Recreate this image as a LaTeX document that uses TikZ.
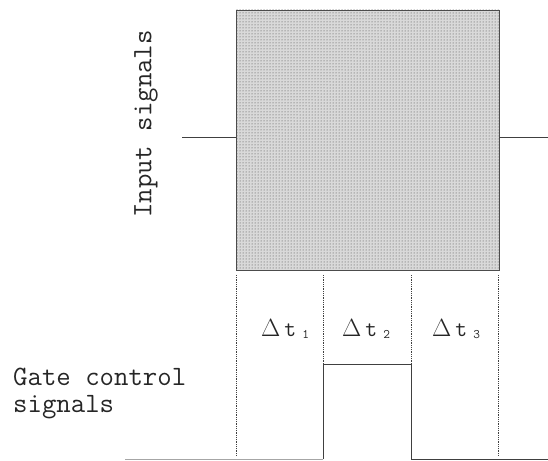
\documentclass[tikz,border=0pt]{standalone}
\usetikzlibrary{patterns}

\newcommand{\dt}[1]{$\Delta$\kern4pt t\kern6pt\raisebox{-2pt}{\fontsize{13}{13}\selectfont #1}}

\begin{document}
\begin{tikzpicture}[x=1pt,y=1pt,
  sig/.style={black!75,semithick},
  slot/.style={black!75,densely dotted,thick},
  txt/.style={font=\ttfamily\fontsize{28}{27}\selectfont,inner sep=0pt,black!85},
  dtl/.style={font=\ttfamily\fontsize{23}{23}\selectfont,inner sep=0pt,black!85,anchor=base west}]
  \useasboundingbox (0,0) rectangle (548,460);

  % input signal block
  \fill[black!15] (236,190) rectangle (499,450);
  \fill[pattern=dots,pattern color=black!75] (236,190) rectangle (499,450);
  \draw[black!70] (236,190) rectangle (499,450);
  \coordinate (inl) at (182,323);
  \coordinate (inr) at (548,323);
  \draw[sig] (inl) -- (236,323);
  \draw[sig] (499,323) -- (inr);
  \node[txt,rotate=90] (inp) at (146,336) {Input signals};

  % time slots
  \foreach \x/\n in {236/a,323/b,411/c,498/d}
    \draw[slot] (\x,185) coordinate (\n top) -- (\x,4) coordinate (\n bot);
  \node[dtl] (dt1) at (261,123) {\dt{1}};
  \node[dtl] (dt2) at (342,123) {\dt{2}};
  \node[dtl] (dt3) at (432,123) {\dt{3}};

  % gate control signal
  \coordinate (g0) at (125,1);
  \coordinate (g1) at (323,1);
  \coordinate (g2) at (323,96);
  \coordinate (g3) at (411,96);
  \coordinate (g4) at (411,1);
  \coordinate (g5) at (548,1);
  \draw[black!35,semithick] (g0) -- (g1);
  \draw[sig] (g1) -- (g2) -- (g3) -- (g4) -- (g5);
  \node[txt,anchor=base west,align=left] (gate) at (13,48) {Gate control\\signals};
\end{tikzpicture}
\end{document}
